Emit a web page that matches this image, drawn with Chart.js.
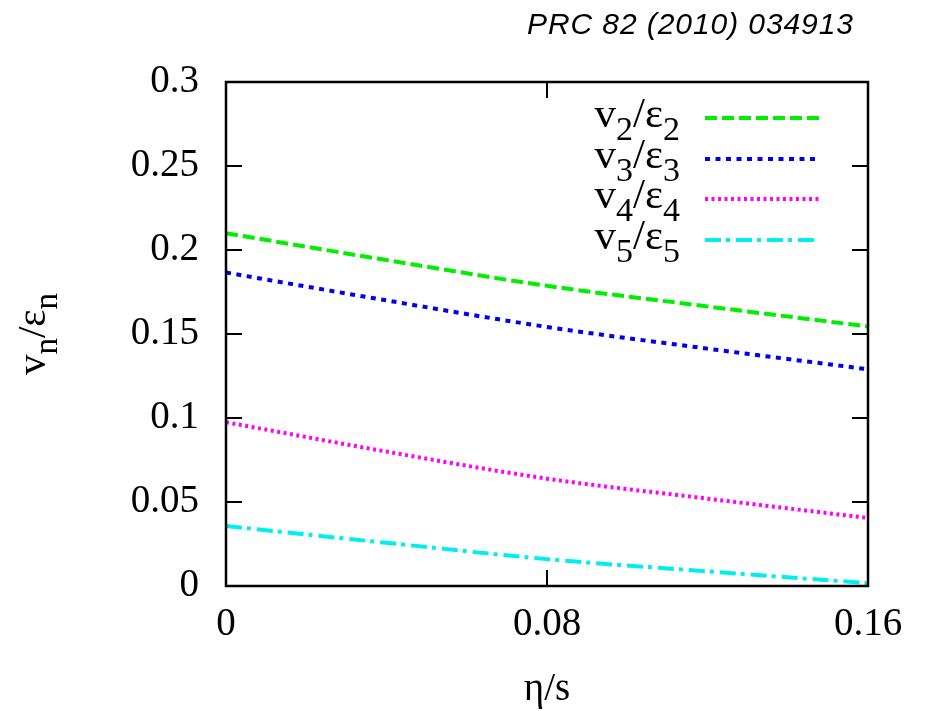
<!DOCTYPE html>
<html>
<head>
<meta charset="utf-8">
<script src="https://cdn.jsdelivr.net/npm/chart.js@4.4.1/dist/chart.umd.min.js"></script>
<style>
  html, body { margin: 0; padding: 0; background: #fff; }
  #wrap { width: 926px; height: 711px; position: relative; }
</style>
</head>
<body>
<div id="wrap"><canvas id="flowChart"></canvas></div>
<script>
// eta/s values and the viscous response v_n/eps_n for each harmonic
const etaOverS = [0, 0.04, 0.08, 0.12, 0.16];
const v2e2 = [0.210, 0.194, 0.1787, 0.1664, 0.1545];
const v3e3 = [0.1866, 0.1700, 0.1542, 0.1413, 0.1290];
const v4e4 = [0.0975, 0.0800, 0.0639, 0.0520, 0.0405];
const v5e5 = [0.0357, 0.0257, 0.0160, 0.0087, 0.0017];

const xTicks = [0, 0.08, 0.16];
const yTicks = [0, 0.05, 0.1, 0.15, 0.2, 0.25, 0.3];
const xTickLabels = ['0', '0.08', '0.16'];
const yTickLabels = ['0', '0.05', '0.1', '0.15', '0.2', '0.25', '0.3'];

const headerText = 'PRC 82 (2010) 034913';
const legendLabels = [['2', '2'], ['3', '3'], ['4', '4'], ['5', '5']];

const SERIF = '"Liberation Serif", "Times New Roman", serif';

function toPoints(values) {
  return values.map((v, i) => ({ x: etaOverS[i], y: v }));
}

const seriesStyle = [
  { color: '#00ee00', dash: [12, 5] },
  { color: '#0000ee', dash: [5, 5.5] },
  { color: '#ff00ff', dash: [3, 3.5] },
  { color: '#00eeee', dash: [16, 5, 4, 6] }
];
const seriesValues = [v2e2, v3e3, v4e4, v5e5];

// draws text pieces like v_2/eps_2, pieces flagged sub are smaller and lowered
function drawSubText(ctx, parts, x, y, size, align) {
  const subSize = Math.round(size * 0.8);
  let total = 0;
  parts.forEach(p => {
    ctx.font = (p.sub ? subSize : size) + 'px ' + SERIF;
    total += ctx.measureText(p.t).width;
  });
  let cx = align === 'right' ? x - total : align === 'center' ? x - total / 2 : x;
  ctx.textAlign = 'left';
  ctx.textBaseline = 'alphabetic';
  parts.forEach(p => {
    ctx.font = (p.sub ? subSize : size) + 'px ' + SERIF;
    ctx.fillText(p.t, cx, p.sub ? y + size * 0.3 : y);
    cx += ctx.measureText(p.t).width;
  });
}

const framePlugin = {
  id: 'frame',
  afterDraw(chart) {
    const { ctx, chartArea: a, scales } = chart;
    ctx.save();
    ctx.fillStyle = '#000';
    ctx.strokeStyle = '#000';

    // inward ticks on all four sides
    ctx.lineWidth = 2;
    const tl = 16;
    ctx.beginPath();
    yTicks.forEach(v => {
      const py = scales.y.getPixelForValue(v);
      ctx.moveTo(a.left, py); ctx.lineTo(a.left + tl, py);
      ctx.moveTo(a.right, py); ctx.lineTo(a.right - tl, py);
    });
    xTicks.forEach(v => {
      const px = scales.x.getPixelForValue(v);
      ctx.moveTo(px, a.bottom); ctx.lineTo(px, a.bottom - tl);
      ctx.moveTo(px, a.top); ctx.lineTo(px, a.top + tl);
    });
    ctx.stroke();

    // box
    ctx.lineWidth = 2.5;
    ctx.strokeRect(a.left, a.top, a.right - a.left, a.bottom - a.top);

    // legend
    const rows = [118, 159, 199, 240];
    legendLabels.forEach((lab, i) => {
      drawSubText(ctx, [
        { t: 'v' }, { t: lab[0], sub: true }, { t: '/ε' }, { t: lab[1], sub: true }
      ], 680, rows[i] + 9, 43, 'right');
      ctx.save();
      ctx.strokeStyle = seriesStyle[i].color;
      ctx.lineWidth = 4;
      ctx.setLineDash(seriesStyle[i].dash);
      ctx.beginPath();
      ctx.moveTo(705, rows[i]);
      ctx.lineTo(819, rows[i]);
      ctx.stroke();
      ctx.restore();
    });

    // axis titles
    ctx.save();
    ctx.translate(45, (a.top + a.bottom) / 2);
    ctx.rotate(-Math.PI / 2);
    drawSubText(ctx, [{ t: 'v' }, { t: 'n', sub: true }, { t: '/ε' }, { t: 'n', sub: true }], 0, 0, 41, 'center');
    ctx.restore();
    drawSubText(ctx, [{ t: 'η/s' }], (a.left + a.right) / 2, 700, 39, 'center');

    // reference header
    ctx.font = 'italic 30px "Liberation Sans", Arial, sans-serif';
    ctx.textAlign = 'left';
    ctx.textBaseline = 'alphabetic';
    const w = ctx.measureText(headerText).width;
    ctx.letterSpacing = Math.max(0, (326 - w) / (headerText.length - 1)) + 'px';
    ctx.fillText(headerText, 527, 34);
    ctx.restore();
  }
};

const ctx = document.getElementById('flowChart').getContext('2d');
window.flowChart = new Chart(ctx, {
  type: 'line',
  data: {
    datasets: seriesValues.map((vals, i) => ({
      data: toPoints(vals),
      borderColor: seriesStyle[i].color,
      borderDash: seriesStyle[i].dash,
      borderWidth: 4,
      pointRadius: 0,
      cubicInterpolationMode: 'monotone',
      fill: false
    }))
  },
  options: {
    responsive: true,
    maintainAspectRatio: false,
    animation: false,
    events: [],
    layout: { padding: { top: 82, right: 58, left: 0, bottom: 0 } },
    plugins: { legend: { display: false }, tooltip: { enabled: false } },
    scales: {
      x: {
        type: 'linear',
        min: 0,
        max: 0.16,
        afterFit: s => { s.height = 125; },
        afterBuildTicks: s => { s.ticks = xTicks.map(v => ({ value: v })); },
        grid: { display: false, drawTicks: false },
        border: { display: false },
        ticks: {
          padding: 15,
          color: '#000',
          font: { family: SERIF, size: 39 },
          maxRotation: 0,
          callback: (v) => xTickLabels[xTicks.indexOf(v)]
        }
      },
      y: {
        min: 0,
        max: 0.3,
        afterFit: s => { s.width = 226; },
        afterBuildTicks: s => { s.ticks = yTicks.map(v => ({ value: v })); },
        grid: { display: false, drawTicks: false },
        border: { display: false },
        ticks: {
          padding: 27,
          color: '#000',
          font: { family: SERIF, size: 39 },
          callback: (v) => yTickLabels[yTicks.indexOf(v)]
        }
      }
    }
  },
  plugins: [framePlugin]
});
</script>
</body>
</html>
